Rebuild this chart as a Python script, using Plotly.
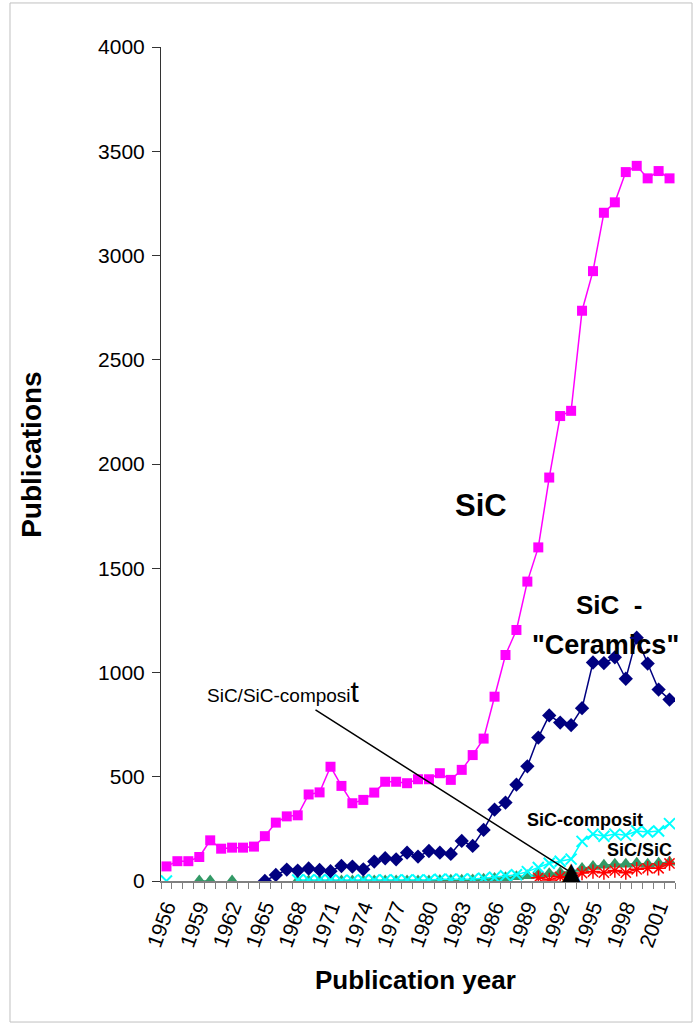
import plotly.graph_objects as go

years = [1956, 1957, 1958, 1959, 1960, 1961, 1962, 1963, 1964, 1965,
         1966, 1967, 1968, 1969, 1970, 1971, 1972, 1973, 1974, 1975,
         1976, 1977, 1978, 1979, 1980, 1981, 1982, 1983, 1984, 1985,
         1986, 1987, 1988, 1989, 1990, 1991, 1992, 1993, 1994, 1995,
         1996, 1997, 1998, 1999, 2000, 2001, 2002]

tick_years = [1956, 1959, 1962, 1965, 1968, 1971, 1974, 1977, 1980, 1983,
              1986, 1989, 1992, 1995, 1998, 2001]
y_ticks = [0, 500, 1000, 1500, 2000, 2500, 3000, 3500, 4000]
grid_ticks = [500, 1000, 1500, 2000, 2500, 3000, 3500]

sic = [70, 95, 95, 115, 195, 155, 160, 160, 165, 215,
       280, 310, 315, 415, 425, 548, 456, 373, 389, 424,
       476, 476, 469, 488, 488, 517, 485, 533, 604, 683,
       884, 1084, 1204, 1436, 1600, 1935, 2230, 2255, 2735, 2925,
       3205, 3255, 3400, 3430, 3370, 3405, 3370]

sic_ceramics = [None, None, None, None, None, None, None, None, None, 0,
                29, 55, 50, 60, 53, 47, 72, 69, 56, 93,
                109, 104, 136, 117, 144, 136, 130, 192, 168, 245,
                342, 376, 462, 550, 688, 794, 760, 748, 829, 1048,
                1045, 1073, 970, 1167, 1043, 918, 870]

sic_composit = [0, None, None, None, None, None, None, None, None, None,
                None, None, 5, 5, 5, 5, 3, 3, 5, 5,
                5, 5, 5, 5, 5, 8, 8, 8, 10, 13,
                18, 25, 30, 45, 65, 85, 95, 105, 190, 225,
                215, 225, 220, 240, 235, 240, 275]

sic_sic = [None, None, None, 0, 0, None, 0, None, None, 0,
           None, None, 0, 0, 0, 0, 0, 0, 0, 0,
           0, 0, 0, 0, 0, 2, 3, 3, 5, 8,
           12, 15, 20, 25, 30, 35, 40, 45, 60, 70,
           75, 80, 80, 85, 80, 85, 90]

sic_sic_composit = [None, None, None, None, None, None, None, None, None, None,
                    None, None, None, None, None, None, None, None, None, None,
                    None, None, None, None, None, None, None, None, None, None,
                    None, None, None, None, 15, 5, 20, 10, 38, 45,
                    40, 50, 40, 56, 61, 61, 84]

FONT = "Liberation Sans, Arial, sans-serif"

fig = go.Figure()

fig.add_trace(go.Scatter(
    x=years, y=sic_sic, mode="lines+markers", connectgaps=False,
    line=dict(color="#339966", width=1.5),
    marker=dict(symbol="triangle-up", size=13, color="#339966"),
))
fig.add_trace(go.Scatter(
    x=years, y=sic_ceramics, mode="lines+markers", connectgaps=False,
    line=dict(color="#000080", width=1.5),
    marker=dict(symbol="diamond", size=11, color="#000080"),
))
fig.add_trace(go.Scatter(
    x=years, y=sic, mode="lines+markers",
    line=dict(color="#FF00FF", width=1.5),
    marker=dict(symbol="square", size=10, color="#FF00FF"),
))
fig.add_trace(go.Scatter(
    x=years, y=sic_composit, mode="lines+markers", connectgaps=False,
    line=dict(color="#00FFFF", width=1.5),
    marker=dict(symbol="x-thin-open", size=11, color="#00FFFF",
                line=dict(color="#00FFFF", width=2)),
))
fig.add_trace(go.Scatter(
    x=years, y=sic_sic_composit, mode="lines+markers", connectgaps=False,
    line=dict(color="#FF0000", width=1.5),
    marker=dict(symbol="asterisk-open", size=12, color="#FF0000",
                line=dict(color="#FF0000", width=1.5)),
))

annotations = [
    dict(x=1984.76, y=1799, text="<b>SiC</b>", showarrow=False,
         font=dict(size=31, color="black", family=FONT)),
    dict(x=1996.47, y=1324, text="<b>SiC  -</b>", showarrow=False,
         font=dict(size=26, color="black", family=FONT)),
    dict(x=1996.19, y=1132, text="<b>\"Ceramics\"</b>", showarrow=False,
         font=dict(size=27, color="black", family=FONT)),
    dict(x=1994.27, y=293, text="<b>SiC-composit</b>", showarrow=False,
         font=dict(size=18, color="black", family=FONT)),
    dict(x=1999.21, y=149, text="<b>SiC/SiC</b>", showarrow=False,
         font=dict(size=18, color="black", family=FONT)),
    dict(x=1959.52, y=911, xanchor="left",
         text="SiC/SiC-composi<span style='font-size:30px'>t</span>",
         showarrow=False, font=dict(size=19, color="black", family=FONT)),
    dict(x=1993.08, y=38, ax=1969.49, ay=825, axref="x", ayref="y",
         text="", showarrow=True, arrowhead=0, arrowwidth=1.5,
         arrowcolor="black"),
    dict(x=1993.08, y=0, yanchor="bottom", yshift=-6, text="\u25B2",
         showarrow=False, font=dict(size=24, color="black",
                                    family="DejaVu Sans")),
    dict(x=-0.251, y=0.511, xref="paper", yref="paper", textangle=-90,
         xanchor="center", yanchor="middle",
         text="<b>Publications</b>", showarrow=False,
         font=dict(size=28, color="black", family=FONT)),
    dict(x=0.496, y=-0.1187, xref="paper", yref="paper",
         xanchor="center", yanchor="middle",
         text="<b>Publication year</b>", showarrow=False,
         font=dict(size=26, color="black", family=FONT)),
]

fig.update_layout(
    width=698, height=1027,
    margin=dict(l=161, r=23, t=47, b=146),
    paper_bgcolor="white", plot_bgcolor="white",
    showlegend=False,
    font=dict(family=FONT, color="black"),
    annotations=annotations,
    xaxis=dict(
        range=[1955.5, 2002.5], tickmode="array", tickvals=tick_years,
        ticktext=[str(t) for t in tick_years], tickangle=-70,
        ticks="", showgrid=False, zeroline=False,
        showline=True, linecolor="#808080", linewidth=1.5,
        tickfont=dict(size=21, family=FONT, color="black"),
        ticklabelstandoff=4,
        minor=dict(ticks="outside", ticklen=6, tick0=1955.5, dtick=1,
                   tickcolor="#808080", tickwidth=1, showgrid=False),
    ),
    yaxis=dict(
        range=[0, 4000], tickmode="array", tickvals=y_ticks,
        ticks="outside", ticklen=8, tickcolor="#333333",
        showgrid=False, zeroline=False,
        showline=True, linecolor="#333333", linewidth=1,
        ticklabelstandoff=3,
        tickfont=dict(size=21, family=FONT, color="black"),
    ),
    yaxis2=dict(
        range=[0, 4000], overlaying="y", tickmode="array",
        tickvals=grid_ticks, showticklabels=False, ticks="",
        showgrid=True, gridcolor="#555555", gridwidth=1,
        zeroline=False, showline=False,
    ),
    shapes=[dict(type="rect", xref="paper", yref="paper",
                 x0=-0.2938, x1=1.0331, y0=-0.1691, y1=1.0528,
                 line=dict(color="#c0c0c0", width=1), layer="below")],
)

fig.write_html("out.html", config={"displayModeBar": False},
               post_script="document.body.style.margin='0px';")
